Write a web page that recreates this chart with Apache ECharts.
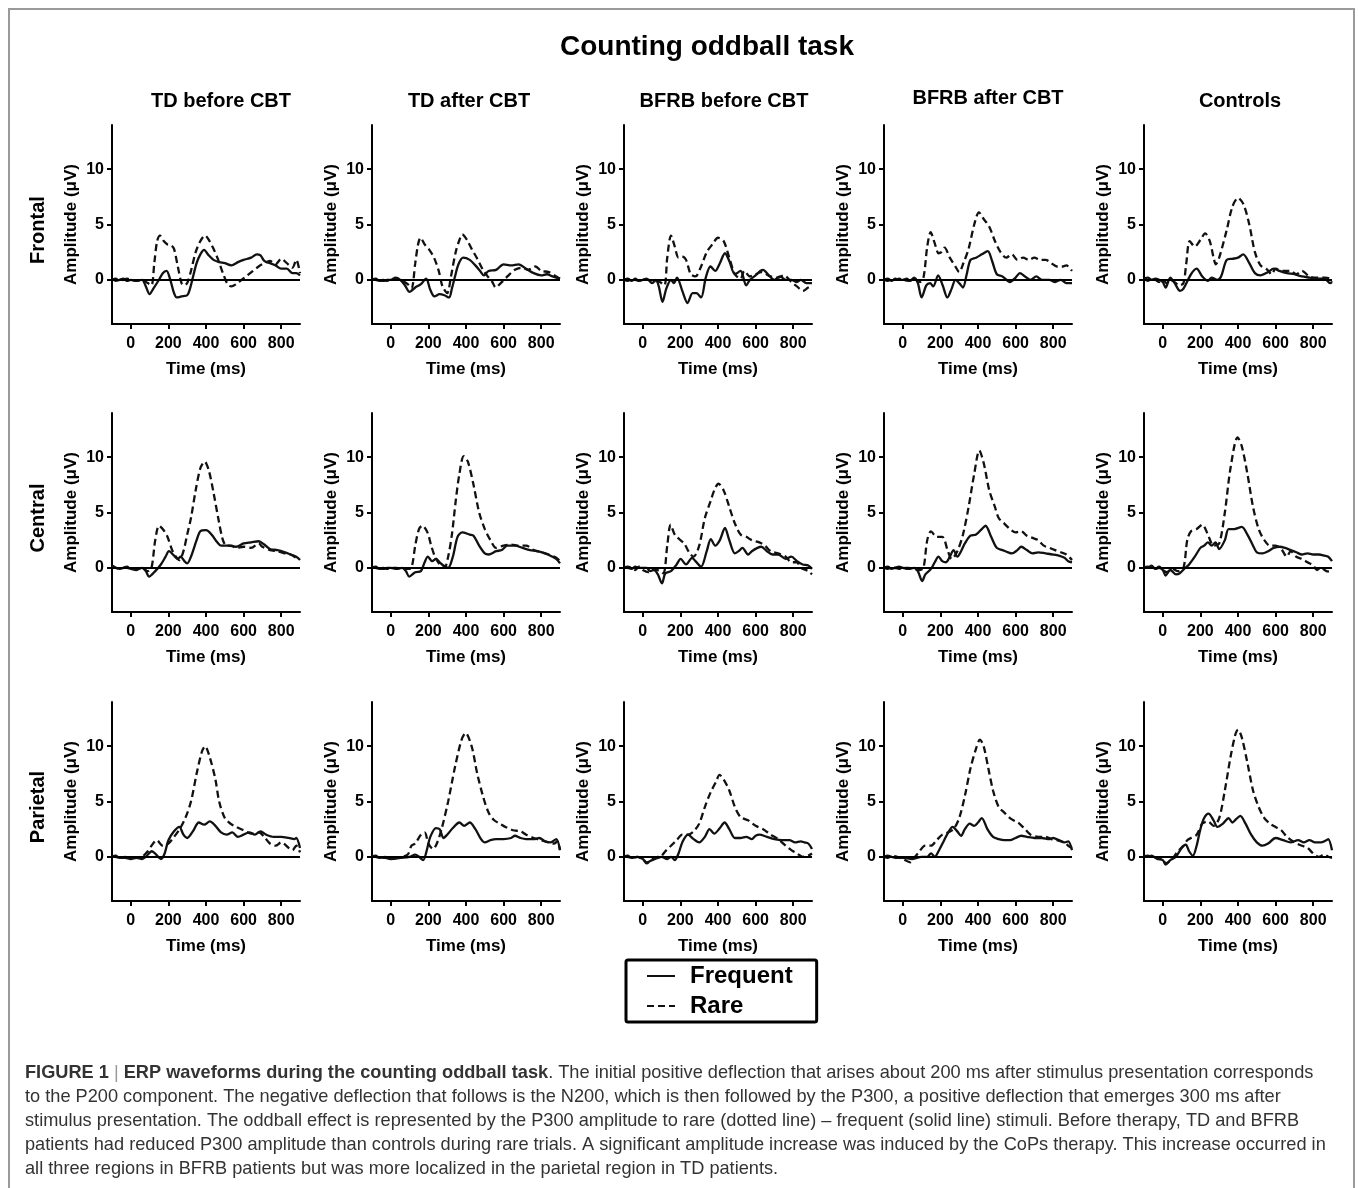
<!DOCTYPE html>
<html>
<head>
<meta charset="utf-8">
<script src="https://cdn.jsdelivr.net/npm/echarts@6/dist/echarts.min.js"></script>
<style>html,body{margin:0;padding:0;background:#fff;}#chart{width:1358px;height:1188px;}</style>
</head>
<body>
<div id="chart"></div>
<script>
// ---------- labels / ticks ----------
const mainTitle = 'Counting oddball task';
const groups = ['TD before CBT', 'TD after CBT', 'BFRB before CBT', 'BFRB after CBT', 'Controls'];
const regions = ['Frontal', 'Central', 'Parietal'];
const seriesNames = ['Frequent', 'Rare'];
const timeTicks = [0, 200, 400, 600, 800];
const ampTicks = [0, 5, 10];
const timeRange = [-100, 900];
const ampRange = [-4, 14];

// ---------- data: [time (ms), amplitude (µV)] ----------
// Frontal
const frontal_TDbefore_freq = [[-100,0.1],[-80,-0.1],[-60,0],[-40,0.1],[-20,-0.1],[0,0],[30,-0.1],[60,0],[80,-0.6],[100,-1.3],[120,-0.8],[150,0],[170,0.6],[190,0.8],[210,0],[230,-1.2],[245,-1.6],[270,-1.5],[300,-1.4],[315,-0.8],[330,0.2],[350,1.5],[370,2.3],[390,2.7],[410,2.3],[440,1.8],[470,1.6],[500,1.5],[535,1.3],[570,1.6],[600,1.8],[640,2.0],[670,2.3],[690,2.2],[710,1.7],[740,1.5],[770,1.3],[800,1.0],[830,1.0],[860,0.6],[880,0.6],[900,0.4]];
const frontal_TDbefore_rare = [[-100,0],[-80,0.1],[-60,-0.1],[-40,0],[-20,0.1],[0,0],[30,-0.1],[60,0],[90,-0.3],[110,-0.5],[125,1.5],[140,3.5],[155,4.0],[175,3.5],[195,3.2],[215,3.1],[230,2.8],[250,1.2],[270,-0.3],[285,-0.5],[300,-0.3],[320,0.8],[345,2.5],[370,3.5],[395,4.0],[415,3.6],[440,2.8],[465,1.8],[490,0.6],[515,-0.4],[535,-0.6],[560,-0.4],[590,0],[620,0.4],[650,0.8],[680,1.2],[710,1.5],[740,1.7],[770,1.4],[800,1.9],[830,1.5],[860,1.1],[880,1.8],[900,0.6]];
const frontal_TDafter_freq = [[-100,0.1],[-80,0],[-60,-0.1],[-40,-0.1],[-20,0],[0,0],[25,0.2],[50,0],[75,-0.5],[100,-1.1],[130,-0.7],[160,-0.4],[188,0.1],[210,-0.9],[232,-1.5],[260,-1.3],[285,-1.4],[310,-1.6],[325,-0.8],[340,0.2],[360,1.4],[385,2.0],[420,1.8],[450,1.3],[475,0.8],[495,0.4],[520,0.8],[560,0.9],[600,1.4],[640,1.3],[680,1.4],[720,1.0],[760,0.6],[800,0.4],[830,0.5],[860,0.3],[900,0.1]];
const frontal_TDafter_rare = [[-100,0],[-80,0.1],[-60,-0.1],[-40,0],[-20,-0.1],[0,0],[30,0.1],[60,-0.1],[90,-0.4],[110,-0.8],[130,1.5],[145,3.2],[158,3.8],[180,3.2],[205,2.7],[230,2.0],[255,0.8],[275,-0.6],[300,-1.2],[320,0.3],[345,2.5],[365,3.6],[380,4.1],[405,3.6],[430,2.8],[460,1.9],[490,0.9],[520,0.2],[540,-0.2],[558,-0.7],[585,-0.3],[620,0.3],[660,0.9],[700,1.1],[730,0.9],[770,1.2],[800,0.8],[840,0.7],[880,0.3],[900,0.1]];
const frontal_BFRBbefore_freq = [[-100,0],[-80,0.1],[-60,-0.1],[-40,0.1],[-20,-0.1],[0,0],[20,0.1],[50,-0.3],[70,0],[85,-0.6],[105,-2.0],[125,-0.8],[150,0],[165,-0.3],[182,0.2],[210,-1.0],[238,-2.1],[265,-1.2],[285,-1.2],[310,-1.6],[335,0.2],[360,1.2],[385,0.8],[410,1.5],[437,2.4],[460,1.7],[490,0.5],[520,0.8],[550,-0.5],[570,0],[600,0.4],[625,0.8],[640,0.9],[670,0.4],[700,0],[730,0.3],[760,0],[790,0],[820,-0.2],[840,0],[870,-0.3],[900,-0.3]];
const frontal_BFRBbefore_rare = [[-100,0],[-80,-0.1],[-60,0.1],[-40,0],[-20,-0.1],[0,0],[30,0],[60,-0.1],[90,-0.2],[115,-0.5],[130,2.0],[150,4.0],[170,3.0],[190,2.0],[210,2.1],[230,1.8],[255,0.5],[280,0.3],[310,1.2],[340,2.5],[370,3.2],[400,3.8],[430,3.5],[460,2.0],[490,0.5],[520,0.1],[540,0.8],[570,0.3],[600,0.5],[630,0.7],[680,0.3],[720,0.2],[750,0.4],[790,-0.2],[820,-0.6],[852,-1.0],[880,-0.7],[900,-0.6]];
const frontal_BFRBafter_freq = [[-100,0],[-80,0.1],[-60,-0.1],[-40,0.1],[-20,0],[0,0],[20,0.1],[40,-0.1],[60,0.2],[80,-0.3],[100,-1.6],[125,-0.5],[145,-0.3],[162,-0.6],[188,0.4],[212,-0.5],[237,-1.6],[260,-0.8],[280,0],[300,-0.3],[320,-0.7],[340,0.5],[360,1.8],[390,2.0],[420,2.3],[452,2.6],[475,1.7],[500,0.5],[530,0.3],[570,-0.2],[600,0.2],[623,0.6],[650,0.3],[680,0],[710,0.3],[740,0],[780,0],[810,-0.2],[840,0],[870,-0.3],[900,-0.3]];
const frontal_BFRBafter_rare = [[-100,0],[-80,-0.1],[-60,0.1],[-40,0],[-20,0.1],[0,0],[30,-0.1],[60,0.1],[90,-0.2],[110,0.2],[130,3.0],[148,4.3],[170,3.3],[190,2.4],[205,2.5],[222,2.9],[250,2.0],[280,1.2],[300,0.7],[322,1.5],[350,2.8],[380,5.0],[405,6.1],[430,5.5],[460,4.8],[490,3.5],[520,2.5],[550,2.0],[580,2.3],[610,1.8],[640,2.0],[670,1.8],[700,2.0],[730,1.8],[760,1.8],[790,1.5],[820,1.2],[850,1.2],[870,1.3],[900,0.8]];
const frontal_Controls_freq = [[-100,0.1],[-80,0.2],[-60,0],[-40,0.1],[-20,0],[0,-0.2],[15,-0.7],[40,0.2],[60,-0.2],[92,-1.0],[110,-0.8],[150,0.5],[180,1.0],[210,0.3],[240,-0.1],[260,0.2],[290,0],[310,0.3],[340,1.8],[370,1.9],[400,2.0],[428,2.3],[460,1.5],[490,0.6],[520,0.4],[560,0.7],[590,1.0],[620,0.8],[660,0.6],[700,0.5],[740,0.3],[780,0.2],[820,0.1],[860,0.1],[890,-0.3],[900,-0.2]];
const frontal_Controls_rare = [[-100,0.1],[-80,-0.1],[-60,0.1],[-40,0],[-20,-0.2],[0,0],[20,-0.3],[40,0],[60,-0.2],[90,-0.5],[110,-0.3],[125,1.5],[143,3.5],[170,3.0],[200,3.6],[225,4.2],[250,3.5],[270,2.0],[282,1.4],[300,2.0],[340,4.5],[370,6.6],[400,7.4],[430,6.8],[460,5.0],[490,2.5],[520,1.3],[550,1.0],[580,0.5],[600,1.0],[640,0.8],[680,0.8],[710,0.5],[740,0.8],[780,0.3],[820,0.2],[860,0.2],[890,0.1],[900,-0.2]];
// Central
const central_TDbefore_freq = [[-100,0.1],[-80,0],[-60,-0.1],[-40,0],[-20,0],[0,-0.1],[30,-0.2],[60,0],[80,-0.3],[97,-0.8],[130,-0.3],[160,0.3],[185,1.0],[203,1.5],[230,1.1],[250,0.8],[265,1.0],[285,0.6],[300,0.4],[320,1.0],[350,2.5],[370,3.3],[400,3.4],[430,3.0],[460,2.3],[480,2.0],[520,2.0],[560,1.9],[600,2.2],[640,2.3],[680,2.4],[710,2.1],[740,1.7],[780,1.6],[820,1.4],[850,1.2],[880,1.0],[900,0.7]];
const central_TDbefore_rare = [[-100,0.2],[-80,0],[-60,-0.1],[-40,0],[-20,0.1],[0,-0.1],[30,-0.1],[60,0],[90,-0.3],[110,0],[130,2.5],[150,3.8],[175,3.4],[195,2.8],[220,1.6],[240,1.0],[258,0.7],[280,1.5],[300,3.0],[320,4.5],[345,7.0],[370,9.0],[393,9.6],[415,8.8],[440,6.8],[465,4.5],[490,2.5],[510,2.0],[535,2.0],[560,1.8],[600,1.9],[640,1.8],[680,2.2],[700,1.9],[740,1.6],[780,1.5],[820,1.3],[850,1.2],[880,0.9],[900,0.8]];
const central_TDafter_freq = [[-100,0.1],[-80,0],[-60,-0.1],[-40,-0.1],[-20,0],[0,0],[30,-0.1],[60,0],[80,-0.3],[98,-0.8],[130,-0.4],[160,-0.3],[180,0.5],[197,1.0],[220,0.6],[240,0.8],[260,0.5],[280,0.2],[305,0],[330,1.0],[355,2.8],[380,3.2],[420,3.0],[440,2.9],[470,2.0],[500,1.3],[520,1.2],[560,1.5],[590,1.6],[620,2.0],[660,2.0],[700,1.8],[740,1.6],[780,1.5],[820,1.3],[860,1.0],[880,0.8],[900,0.4]];
const central_TDafter_rare = [[-100,0],[-80,0.1],[-60,-0.1],[-40,0],[-20,-0.1],[0,0],[30,0],[60,-0.1],[90,-0.1],[110,0],[130,2.0],[150,3.5],[168,3.8],[195,3.2],[215,2.0],[235,1.0],[260,0.3],[285,0],[305,1.0],[325,3.0],[345,6.0],[365,8.5],[388,10.1],[410,9.6],[440,7.5],[470,5.0],[500,3.5],[530,2.5],[560,1.8],[600,2.0],[640,2.1],[680,2.0],[720,2.0],[760,1.6],[800,1.4],[840,1.2],[880,0.9],[900,0.6]];
const central_BFRBbefore_freq = [[-100,0.1],[-80,0],[-60,-0.1],[-40,0.1],[-20,0],[0,0],[20,0],[40,-0.3],[60,-0.2],[80,-0.6],[102,-1.4],[120,-0.5],[150,-0.3],[180,0.3],[201,0.8],[230,0.3],[262,0.9],[280,0.6],[310,0.1],[340,1.5],[362,2.6],[385,2.0],[410,2.5],[437,3.6],[460,2.5],[490,1.3],[510,1.5],[530,1.8],[560,1.2],[580,1.5],[610,1.8],[630,1.9],[660,1.5],[690,1.2],[720,1.2],[760,0.8],[790,1.0],[820,0.6],[850,0.3],[880,0.2],[900,-0.1]];
const central_BFRBbefore_rare = [[-100,0],[-80,0.1],[-60,0],[-40,-0.2],[-20,0.1],[0,-0.2],[30,-0.4],[60,-0.1],[90,-0.3],[110,-0.5],[130,2.0],[148,3.9],[170,3.0],[200,2.5],[220,2.2],[250,1.3],[270,1.0],[300,2.0],[330,4.5],[360,6.0],[380,7.0],[402,7.6],[430,7.0],[460,5.5],[490,4.0],[520,3.0],[550,2.8],[580,2.5],[620,2.3],[650,2.0],[680,1.5],[720,1.3],[760,1.0],[790,0.5],[820,0.5],[840,0],[880,-0.3],[900,-0.6]];
const central_BFRBafter_freq = [[-100,0],[-80,0.1],[-60,-0.1],[-40,0],[-20,0.1],[0,0],[30,-0.1],[60,0],[80,-0.3],[103,-1.2],[120,-0.6],[150,-0.1],[170,0.5],[190,1.0],[210,0.6],[230,0.5],[250,1.0],[270,1.6],[290,1.0],[310,1.5],[330,2.2],[360,2.9],[390,3.0],[420,3.5],[440,3.8],[470,2.8],[500,1.8],[530,1.6],[560,1.4],[580,1.3],[610,1.6],[630,1.9],[660,1.6],[690,1.3],[720,1.4],[760,1.3],[800,1.2],[830,1.1],[860,0.9],[880,0.6],[900,0.5]];
const central_BFRBafter_rare = [[-100,0],[-80,-0.1],[-60,0.1],[-40,0],[-20,-0.1],[0,0],[30,0],[60,-0.1],[90,-0.2],[110,0],[130,2.5],[150,3.3],[180,2.8],[210,2.8],[240,1.5],[260,0.8],[290,1.5],[320,3.0],[350,5.5],[380,8.5],[407,10.6],[430,9.5],[460,7.0],[490,5.5],[510,4.5],[540,4.0],[570,3.5],[600,3.2],[630,3.3],[660,2.9],[690,2.7],[720,2.5],[750,2.0],[780,1.8],[810,1.6],[840,1.4],[870,1.2],[900,0.7]];
const central_Controls_freq = [[-100,0.1],[-80,0],[-60,0.2],[-40,-0.1],[-20,0],[0,-0.2],[15,-0.7],[40,-0.2],[70,-0.6],[90,-0.5],[120,0],[140,0.3],[170,1.0],[200,1.8],[220,2.0],[240,2.3],[260,2.0],[280,2.3],[300,1.7],[330,2.5],[350,3.5],[380,3.5],[420,3.7],[450,3.0],[480,2.0],[500,1.4],[530,1.3],[560,1.5],[590,1.8],[620,1.9],[650,1.8],[680,1.6],[710,1.4],[740,1.2],[770,1.3],[800,1.2],[830,1.2],[860,1.1],[880,1.0],[900,0.6]];
const central_Controls_rare = [[-100,0],[-80,0.1],[-60,0],[-40,-0.1],[-20,0.1],[0,-0.2],[20,-0.4],[50,-0.1],[80,-0.3],[110,0],[130,2.5],[150,3.3],[180,3.5],[210,3.9],[240,3.0],[270,2.0],[300,2.2],[330,5.0],[360,9.0],[398,11.8],[420,11.0],[450,8.5],[480,5.5],[510,3.5],[540,2.5],[570,2.0],[600,2.0],[630,1.7],[660,1.0],[680,1.5],[710,1.0],[740,0.8],[770,0.5],[800,0.2],[820,-0.2],[840,0],[870,-0.3],[900,-0.4]];
// Parietal
const parietal_TDbefore_freq = [[-100,0.1],[-80,0],[-60,-0.1],[-30,-0.1],[0,-0.2],[30,-0.1],[60,-0.2],[80,0],[112,0.5],[135,0.2],[160,-0.2],[180,0.3],[200,1.5],[230,2.3],[258,2.7],[280,2.0],[300,1.7],[330,2.3],[362,3.1],[390,2.9],[420,3.2],[450,2.8],[480,2.2],[510,2.0],[540,2.2],[570,1.8],[600,2.0],[630,2.2],[660,2.0],[690,2.3],[720,2.0],[760,1.8],[800,1.8],[840,1.7],[870,1.6],[880,1.7],[900,0.8]];
const parietal_TDbefore_rare = [[-100,0],[-80,0.1],[-60,-0.1],[-30,0],[0,-0.1],[30,-0.1],[60,0],[90,0.5],[110,1.0],[138,1.5],[170,1.0],[200,1.2],[230,1.8],[260,2.5],[290,3.5],[320,5.0],[350,7.5],[378,9.5],[395,10.0],[420,9.0],[450,7.0],[470,5.0],[500,3.5],[530,3.0],[560,2.7],[600,2.4],[640,2.1],[680,2.2],[710,1.8],[740,1.2],[770,1.0],[800,1.3],[840,0.8],[860,0.6],[880,1.0],[900,0.4]];
const parietal_TDafter_freq = [[-100,0.1],[-80,0],[-60,-0.1],[-30,0],[0,-0.2],[50,-0.1],[100,0],[130,0.2],[150,0],[172,-0.3],[190,0.5],[210,1.8],[240,2.6],[260,2.5],[280,1.7],[300,2.0],[330,2.6],[365,3.1],[390,2.8],[420,3.1],[450,2.5],[480,1.6],[500,1.3],[530,1.5],[560,1.6],[600,1.6],[640,1.7],[660,1.9],[690,1.7],[720,1.6],[760,1.6],[790,1.7],[820,1.4],[850,1.3],[880,1.6],[900,0.6]];
const parietal_TDafter_rare = [[-100,0],[-80,0.1],[-60,-0.1],[-30,-0.1],[0,-0.2],[30,-0.1],[60,0],[90,0.2],[110,1.0],[130,1.2],[160,2.0],[180,2.2],[200,1.2],[225,0.7],[245,1.2],[270,2.5],[305,5.0],[340,8.0],[375,10.5],[398,11.2],[430,10.0],[460,7.5],[490,5.5],[520,4.0],[550,3.3],[580,3.0],[610,2.7],[650,2.4],[690,2.3],[720,2.0],[760,1.7],[800,1.5],[840,1.3],[870,1.2],[885,1.4],[900,0.6]];
const parietal_BFRBbefore_freq = [[-100,0.1],[-80,0],[-60,-0.1],[-30,0],[0,-0.2],[20,-0.5],[50,-0.3],[80,-0.1],[100,0],[130,-0.2],[150,0],[170,-0.3],[190,0.3],[210,1.3],[240,2.0],[270,1.6],[300,1.3],[330,1.8],[355,2.5],[380,2.1],[410,2.6],[435,3.1],[460,2.5],[490,1.7],[520,1.7],[550,1.8],[580,1.6],[600,1.9],[620,2.0],[660,1.8],[700,1.6],[740,1.5],[780,1.5],[810,1.3],[840,1.4],[860,1.3],[880,1.2],[900,0.7]];
const parietal_BFRBbefore_rare = [[-100,0],[-80,0.1],[-60,-0.1],[-30,0],[0,-0.2],[20,-0.6],[50,-0.2],[80,0],[100,0.1],[120,0.5],[150,1.0],[180,1.5],[210,2.0],[240,2.0],[270,2.3],[300,3.0],[330,4.5],[360,5.8],[390,6.8],[408,7.4],[430,7.0],[460,6.0],[490,4.5],[520,3.6],[560,3.3],[600,2.8],[640,2.5],[680,2.0],[720,1.6],[760,1.0],[790,0.6],[820,0.3],[850,0],[880,0.1],[900,0.3]];
const parietal_BFRBafter_freq = [[-100,0],[-80,0.1],[-60,0],[-30,-0.1],[0,-0.1],[50,-0.2],[100,0],[130,0],[150,0.3],[170,0],[190,0.5],[220,1.5],[245,2.3],[265,2.7],[290,2.3],[310,1.9],[330,2.5],[356,3.0],[380,2.8],[400,3.1],[420,3.5],[450,2.5],[480,1.8],[510,1.6],[540,1.5],[570,1.5],[600,1.7],[630,1.9],[660,1.8],[700,1.7],[740,1.7],[780,1.6],[800,1.7],[830,1.5],[860,1.3],[880,1.4],[900,0.6]];
const parietal_BFRBafter_rare = [[-100,0],[-80,-0.1],[-60,0.1],[-30,0],[0,-0.2],[40,-0.5],[60,-0.1],[80,0.3],[120,1.0],[150,1.0],[180,1.5],[210,2.0],[240,2.2],[270,2.5],[300,3.5],[330,5.5],[360,8.0],[390,9.8],[410,10.6],[430,10.0],[455,8.0],[480,6.0],[510,4.5],[540,4.0],[570,3.5],[600,3.2],[620,3.0],[650,2.5],[680,2.0],[720,1.8],[760,1.8],[790,1.6],[820,1.5],[860,1.3],[880,1.0],[900,0.8]];
const parietal_Controls_freq = [[-100,0.1],[-80,0],[-60,0.1],[-30,-0.2],[0,-0.3],[15,-0.7],[40,-0.3],[70,0],[100,0.8],[122,1.1],[140,0.5],[160,0.1],[180,1.0],[200,2.5],[220,3.5],[243,3.9],[270,3.3],[290,2.7],[320,3.0],[350,3.5],[370,3.1],[390,3.4],[412,3.7],[440,3.0],[470,2.0],[500,1.3],[530,1.0],[560,1.2],[600,1.7],[640,1.5],[680,1.3],[720,1.5],[750,1.3],[780,1.5],[810,1.3],[840,1.3],[870,1.5],[880,1.6],[900,0.6]];
const parietal_Controls_rare = [[-100,0],[-80,0.1],[-60,0],[-30,-0.1],[0,-0.2],[15,-0.6],[50,-0.2],[80,0.5],[110,1.0],[130,1.5],[150,1.7],[180,2.0],[210,3.0],[240,3.2],[270,2.8],[300,3.5],[330,6.0],[360,9.0],[385,11.0],[400,11.5],[420,10.8],[450,8.5],[480,6.0],[510,4.5],[540,3.5],[570,3.0],[600,2.7],[630,2.4],[660,1.8],[700,1.3],[740,1.0],[770,0.8],[800,0.3],[830,0],[860,0.2],[880,0],[900,-0.1]];

const captionLines = [
  'to the P200 component. The negative deflection that follows is the N200, which is then followed by the P300, a positive deflection that emerges 300 ms after',
  'stimulus presentation. The oddball effect is represented by the P300 amplitude to rare (dotted line) \u2013 frequent (solid line) stimuli. Before therapy, TD and BFRB',
  'patients had reduced P300 amplitude than controls during rare trials. A significant amplitude increase was induced by the CoPs therapy. This increase occurred in',
  'all three regions in BFRB patients but was more localized in the parietal region in TD patients.'
];

// ---------- build ----------
const panels = [
  [[frontal_TDbefore_freq, frontal_TDbefore_rare],[frontal_TDafter_freq, frontal_TDafter_rare],[frontal_BFRBbefore_freq, frontal_BFRBbefore_rare],[frontal_BFRBafter_freq, frontal_BFRBafter_rare],[frontal_Controls_freq, frontal_Controls_rare]],
  [[central_TDbefore_freq, central_TDbefore_rare],[central_TDafter_freq, central_TDafter_rare],[central_BFRBbefore_freq, central_BFRBbefore_rare],[central_BFRBafter_freq, central_BFRBafter_rare],[central_Controls_freq, central_Controls_rare]],
  [[parietal_TDbefore_freq, parietal_TDbefore_rare],[parietal_TDafter_freq, parietal_TDafter_rare],[parietal_BFRBbefore_freq, parietal_BFRBbefore_rare],[parietal_BFRBafter_freq, parietal_BFRBafter_rare],[parietal_Controls_freq, parietal_Controls_rare]]
];

const FONT = '"Liberation Sans", Arial, Helvetica, sans-serif';
const CAP = 18.2;
const lefts = [112, 372, 624, 884, 1144];
const tops = [125, 413, 702];
const GW = 188, GH = 199;
const titleX = [221, 469, 724, 988, 1240];
const titleY = [101, 101, 101, 98, 101];

const grid = [], xAxis = [], yAxis = [], series = [];
for (let r = 0; r < 3; r++) {
  for (let c = 0; c < 5; c++) {
    const i = r * 5 + c;
    grid.push({ left: lefts[c], top: tops[r], width: GW, height: GH, containLabel: false });
    xAxis.push({
      gridIndex: i, type: 'value', min: timeRange[0], max: timeRange[1],
      axisLine: { onZero: false, lineStyle: { color: '#000', width: 2 } },
      axisTick: { customValues: timeTicks, length: 5, lineStyle: { color: '#000', width: 2 } },
      axisLabel: { customValues: timeTicks, color: '#000', fontWeight: 'bold', fontSize: 16, fontFamily: FONT, margin: 12 },
      splitLine: { show: false },
      name: 'Time (ms)', nameLocation: 'middle', nameGap: 37,
      nameTextStyle: { color: '#000', fontWeight: 'bold', fontSize: 17, fontFamily: FONT }
    });
    yAxis.push({
      gridIndex: i, type: 'value', min: ampRange[0], max: ampRange[1],
      axisLine: { show: true, onZero: false, lineStyle: { color: '#000', width: 2 } },
      axisTick: { show: true, customValues: ampTicks, length: 5, lineStyle: { color: '#000', width: 2 } },
      axisLabel: { customValues: ampTicks, color: '#000', fontWeight: 'bold', fontSize: 16, fontFamily: FONT, margin: 8 },
      splitLine: { show: false },
      name: 'Amplitude (\u03bcV)', nameLocation: 'middle', nameGap: 32,
      nameTextStyle: { color: '#000', fontWeight: 'bold', fontSize: 17, fontFamily: FONT }
    });
    const [freq, rare] = panels[r][c];
    series.push({
      name: seriesNames[0], type: 'line', xAxisIndex: i, yAxisIndex: i, data: freq,
      symbol: 'none', smooth: 0.3, color: '#111',
      lineStyle: { color: '#111', width: 2.3, type: 'solid' },
      markLine: { silent: true, symbol: 'none', label: { show: false },
        lineStyle: { color: '#000', width: 2, type: 'solid' }, data: [{ yAxis: 0 }] },
      z: 3
    });
    series.push({
      name: seriesNames[1], type: 'line', xAxisIndex: i, yAxisIndex: i, data: rare,
      symbol: 'none', smooth: 0.3, color: '#111',
      lineStyle: { color: '#111', width: 2.3, type: [7, 4] },
      z: 2
    });
  }
}

const graphic = [];
graphic.push({ type: 'rect', silent: true, z: -1, shape: { x: 9, y: 9, width: 1345, height: 1210 },
  style: { fill: 'none', stroke: '#9a9a9a', lineWidth: 2 } });
graphic.push({ type: 'text', x: 707, y: 47, style: { text: mainTitle, fill: '#000',
  font: 'bold 28px ' + FONT, textAlign: 'center', textVerticalAlign: 'middle' } });
groups.forEach((g, c) => graphic.push({ type: 'text', x: titleX[c], y: titleY[c], style: { text: g, fill: '#000',
  font: 'bold 20px ' + FONT, textAlign: 'center', textVerticalAlign: 'middle' } }));
regions.forEach((rg, r) => graphic.push({ type: 'text', x: 38, y: tops[r] + 105, rotation: Math.PI / 2,
  style: { text: rg, fill: '#000', font: 'bold 20px ' + FONT, textAlign: 'center', textVerticalAlign: 'middle' } }));
// caption
graphic.push({ type: 'text', x: 25, y: 1073, style: {
  text: '{b|FIGURE 1} {s||} {b|ERP waveforms during the counting oddball task}. The initial positive deflection that arises about 200 ms after stimulus presentation corresponds',
  fill: '#333', font: CAP + 'px ' + FONT, textVerticalAlign: 'middle',
  rich: { b: { fontWeight: 'bold', fontSize: CAP, fontFamily: FONT, fill: '#333' },
          s: { fontSize: CAP, fontFamily: FONT, fill: '#999' } } } });
captionLines.forEach((t, k) => graphic.push({ type: 'text', x: 25, y: 1097 + 24 * k, style: {
  text: t, fill: '#333', font: CAP + 'px ' + FONT, textVerticalAlign: 'middle' } }));

const chart = echarts.init(document.getElementById('chart'), null, { renderer: 'canvas' });
chart.setOption({
  animation: false,
  backgroundColor: '#fff',
  grid, xAxis, yAxis, series, graphic,
  legend: {
    data: seriesNames, orient: 'vertical', left: 626, top: 960,
    borderColor: '#000', borderWidth: 3, borderRadius: 2, padding: [4, 24, 4, 20],
    itemWidth: 28, itemHeight: 14, itemGap: 6,
    itemStyle: { opacity: 0, borderWidth: 0 },
    textStyle: { color: '#000', fontWeight: 'bold', fontSize: 24, fontFamily: FONT, padding: [0, 0, 0, 10] },
    selectedMode: false
  }
});
</script>
</body>
</html>
